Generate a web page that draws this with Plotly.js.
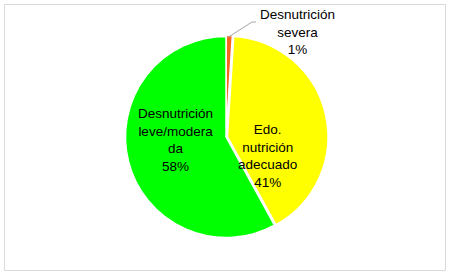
<!DOCTYPE html>
<html>
<head>
<meta charset="utf-8">
<script src="https://cdn.plot.ly/plotly-3.0.1.min.js"></script>
<style>html,body{margin:0;padding:0;background:#fff;}#chart{width:453px;height:277px;}</style>
</head>
<body>
<div id="chart"></div>
<script>
const categories = ['Desnutrición severa', 'Edo. nutrición adecuado', 'Desnutrición leve/moderada'];
const values = [1, 41, 58];
const labelTexts = ['Desnutrición<br>severa<br>1%', 'Edo.<br>nutrición<br>adecuado<br>41%', 'Desnutrición<br>leve/modera<br>da<br>58%'];
const colors = ['#F4661B', '#FFFF00', '#00FF00'];

const W = 453, H = 277;
const px = x => x / W;
const py = y => 1 - y / H;

const trace = {
  type: 'pie',
  labels: categories,
  values: values,
  sort: false,
  direction: 'clockwise',
  rotation: 0,
  pull: [0.012, 0.015, 0],
  textinfo: 'none',
  hoverinfo: 'label+percent',
  marker: { colors: colors, line: { color: '#FFFFFF', width: 1.5 } },
  domain: { x: [px(124), px(328)], y: [py(239.5), py(34.5)] },
  showlegend: false
};

const font = { family: 'Liberation Sans, Arial, sans-serif', size: 13.5, color: '#000000' };
const labelPos = [[297, 32], [267, 156], [175, 140]];
const annotations = labelTexts.map((t, i) => ({
  text: t, x: px(labelPos[i][0]), y: py(labelPos[i][1]), xref: 'paper', yref: 'paper',
  showarrow: false, font: font, align: 'center', xanchor: 'center', yanchor: 'middle'
}));

const layout = {
  width: W, height: H,
  margin: { l: 0, r: 0, t: 0, b: 0 },
  paper_bgcolor: '#FFFFFF',
  font: font,
  annotations: annotations,
  shapes: [
    { type: 'rect', xref: 'paper', yref: 'paper', x0: px(4.5), y0: py(4.5), x1: px(445.5), y1: py(270.5),
      line: { color: '#D9D9D9', width: 1 }, fillcolor: 'rgba(0,0,0,0)' },
    { type: 'path', xref: 'paper', yref: 'paper',
      path: `M ${px(228.5)} ${py(37)} L ${px(252)} ${py(22)} L ${px(256)} ${py(22)}`,
      line: { color: '#A6A6A6', width: 1 } }
  ]
};

Plotly.newPlot('chart', [trace], layout, { displayModeBar: false, staticPlot: true });
</script>
</body>
</html>
